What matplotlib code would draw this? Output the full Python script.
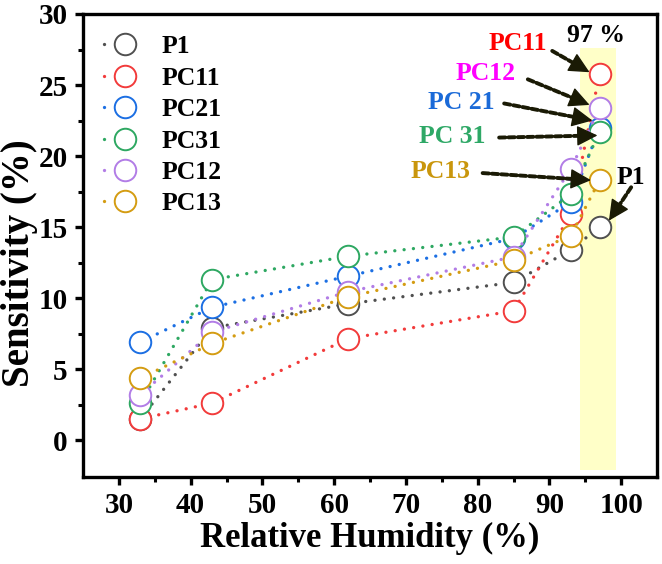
import matplotlib
matplotlib.use("Agg")
import matplotlib.pyplot as plt
from matplotlib import rcParams
from matplotlib.patches import Rectangle
from matplotlib.lines import Line2D
import numpy as np

rcParams["font.family"] = ["Liberation Serif", "DejaVu Serif"]
rcParams["font.weight"] = "bold"

# Relative humidity (%) and sensitivity (%) per sample
rh = [33, 43, 62, 85, 93, 97]
names = ["P1", "PC11", "PC21", "PC31", "PC12", "PC13"]
p1 = [1.5, 7.9, 9.6, 11.1, 13.4, 15.0]
pc11 = [1.5, 2.6, 7.15, 9.1, 15.9, 25.8]
pc21 = [6.9, 9.35, 11.55, 14.2, 16.75, 22.0]
pc31 = [2.6, 11.3, 12.95, 14.3, 17.3, 21.7]
pc12 = [3.2, 7.6, 10.45, 12.9, 19.1, 23.4]
pc13 = [4.35, 6.8, 10.1, 12.65, 14.4, 18.3]
series = [p1, pc11, pc21, pc31, pc12, pc13]

colors = ["#505050", "#F23B3B", "#1C6FE3", "#2EA862", "#B27DE6", "#D49C12"]

# annotation labels at 97 % RH
ann_text = ["PC11", "PC12", "PC 21", "PC 31", "PC13", "P1"]
ann_color = ["#FF0000", "#FF00FF", "#1A6AD8", "#2EA866", "#C9960C", "#000000"]
ann_xy = [(85.6, 27.9), (81.1, 25.8), (77.7, 23.8), (76.4, 21.4), (74.9, 18.9), (101.4, 18.5)]
arrow_from = [(90.4, 27.4), (87.0, 25.4), (83.7, 23.7), (83.0, 21.3), (80.7, 18.8), (101.4, 17.8)]
arrow_to = [(95.6, 25.9), (95.6, 23.6), (96.0, 22.5), (96.7, 21.45), (95.8, 18.3), (98.3, 15.45)]

ARROW = "#1A1A05"
DOT = (0, (0.01, 2.8))

fig = plt.figure(figsize=(6.62, 5.64), dpi=100)
ax = fig.add_axes([83 / 662, 87 / 564, 574 / 662, 463 / 564])
ax.set_xlim(25, 105)
ax.set_ylim(-2.6, 30)

ax.add_patch(Rectangle((94.2, -2.1), 5.1, 29.7, facecolor="#FFFFC8",
                       edgecolor="none", zorder=0))

handles = []
for name, ys, c in zip(names, series, colors):
    ax.plot(rh, ys, color=c, lw=2.4, linestyle=DOT,
            dash_capstyle="round", marker="o", ms=15.5, mfc="white",
            mec=c, mew=1.4, zorder=3)
    handles.append(Line2D([], [], color=c, lw=2.4, linestyle=(0, (0.01, 7)),
                          dash_capstyle="round", marker="o", ms=15.5,
                          mfc="white", mec=c, mew=1.4))

leg = ax.legend(handles, names, loc="upper left", frameon=False,
                fontsize=18.5, handlelength=1.63, handletextpad=0.62,
                labelspacing=0.33, borderaxespad=0.42, numpoints=1)

for t, c, xy in zip(ann_text, ann_color, ann_xy):
    ax.text(xy[0], xy[1], t, color=c, fontsize=18.5, fontweight="bold",
            ha="center", va="center", zorder=5)

# dotted shaft + solid head
for a, b in zip(arrow_from, arrow_to):
    pa = ax.transData.transform(a)
    pb = ax.transData.transform(b)
    d = (pb - pa) / np.hypot(*(pb - pa))
    shaft_end = ax.transData.inverted().transform(pb - d * 10)
    head_start = ax.transData.inverted().transform(pb - d * 12)
    ax.annotate("", xy=shaft_end, xytext=a, zorder=6,
                arrowprops=dict(arrowstyle="-", linestyle=(0, (1.6, 0.8)),
                                lw=2.8, color=ARROW, shrinkA=0, shrinkB=0))
    ax.annotate("", xy=b, xytext=head_start, zorder=6,
                arrowprops=dict(arrowstyle="-|>,head_length=0.65,head_width=0.32",
                                lw=1, color=ARROW, shrinkA=0, shrinkB=0,
                                mutation_scale=20))

ax.text(96.5, 28.5, "97 %", fontsize=18.5, fontweight="bold", ha="center",
        va="center", color="black")

ax.set_xticks([30, 40, 50, 60, 70, 80, 90, 100])
ax.set_xticks([35, 45, 55, 65, 75, 85, 95], minor=True)
ax.set_yticks([0, 5, 10, 15, 20, 25, 30])
ax.set_yticks([2.5, 7.5, 12.5, 17.5, 22.5, 27.5], minor=True)
ax.tick_params(axis="both", which="major", direction="out", length=6, width=2.4,
               labelsize=21, pad=5)
ax.tick_params(axis="both", which="minor", direction="out", length=3.5, width=2.2)
for lbl in ax.get_xticklabels() + ax.get_yticklabels():
    lbl.set_fontweight("bold")
for sp in ax.spines.values():
    sp.set_linewidth(2.4)

ax.set_xlabel("Relative Humidity (%)", fontsize=25, fontweight="bold", labelpad=2)
ax.set_ylabel("Sensitivity (%)", fontsize=28, fontweight="bold")
ax.yaxis.set_label_coords(-0.078, 0.462)

fig.savefig("out.png", dpi=100)
